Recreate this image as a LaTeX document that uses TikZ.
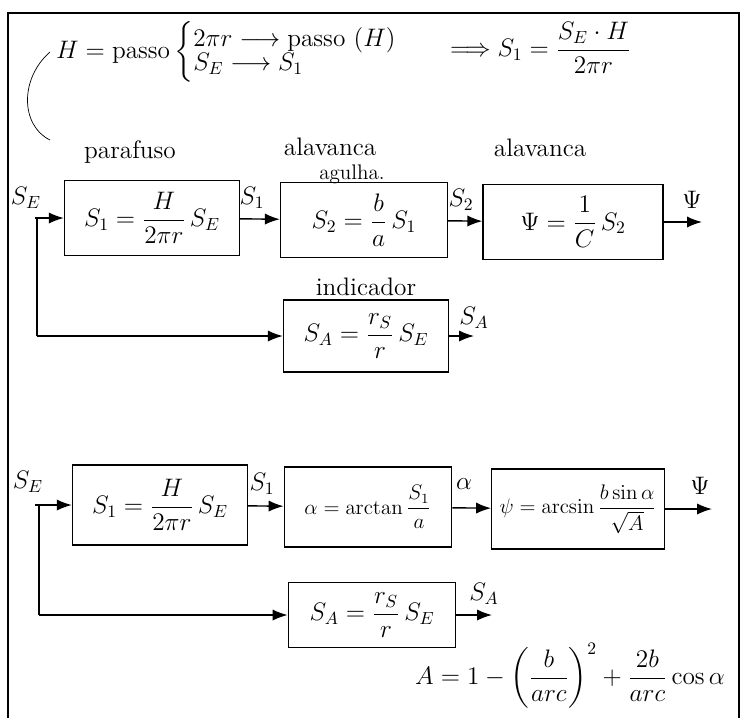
\documentclass[tikz,border=0pt]{standalone}
\usepackage{amsmath}
\usetikzlibrary{arrows.meta}
\tikzset{
  block/.style={draw, thick, minimum width=3.5cm, minimum height=1.5cm, font=\Large},
  lbl/.style={font=\Large},
  sig/.style={font=\Large},
  flow/.style={-{Latex[length=3mm]}, thick},
}
\begin{document}
\begin{tikzpicture}[x=0.02cm, y=-0.02cm]
  \useasboundingbox (0,0) rectangle (742,718);
  \draw[thick] (8,718) |- (739,13) -- (739,718);
  % H = passo
  \draw
    (50,52) node[anchor=west, font=\Large] (hdef)
      {$H=\text{passo}\left\{\begin{array}{@{}l@{}}
        2\pi r \longrightarrow \text{passo}\ (H)\\[-4pt]
        S_E \longrightarrow S_1\end{array}\right.$}
    (444,48) node[anchor=west, font=\Large] (res)
      {$\Longrightarrow S_1=\dfrac{S_E\cdot H}{2\pi r}$};
  \coordinate (cend) at (50,140);
  \draw (hdef.west) .. controls (20,78) and (20,125) .. (cend);
  % first chain
  \draw
    (152,218) node[block] (p1){$S_1=\dfrac{H}{2\pi r}\,S_E$}
    (364,220) node[block, minimum width=3.34cm] (a1){$S_2=\dfrac{b}{a}\,S_1$}
    (573,222) node[block, minimum width=3.6cm] (c1){$\Psi=\dfrac{1}{C}\,S_2$}
    (366,336) node[block, minimum width=3.3cm, minimum height=1.44cm] (i1){$S_A=\dfrac{r_S}{r}\,S_E$}
    (130,152) node[lbl] (para1){parafuso}
    (330,147) node[lbl] (alav1){alavanca}
    (352,174) node[lbl, font=\large] (agul1){agulha.}
    (540,148) node[lbl] (alav2){alavanca}
    (366,287) node[lbl] (ind1){indicador};
  \coordinate (in1) at (35,218);
  \coordinate (k1) at (37,336);
  \coordinate (out1) at (702,222);
  \coordinate (sa1) at (474,336);
  \node[sig] (se1) at (26,198) {$S_E$};
  \node[sig] (s11) at (252,198) {$S_1$};
  \node[sig] (s21) at (461,200) {$S_2$};
  \node[sig] (psi1) at (692,200) {$\Psi$};
  \node[sig] (sal1) at (474,318) {$S_A$};
  \begin{scope}[flow]
    \draw (in1) -- (p1);
    \draw (p1) -- (a1);
    \draw (a1) -- (c1);
    \draw (c1) -- (out1);
    \draw[-] (37,218) -- (k1);
    \draw (k1) -- (i1);
    \draw (i1) -- (sa1);
  \end{scope}
  % second chain
  \draw
    (160,505) node[block, minimum height=1.6cm] (p2){$S_1=\dfrac{H}{2\pi r}\,S_E$}
    (368,507) node[block, minimum width=3.35cm, minimum height=1.6cm, font=\large] (a2){$\alpha=\arctan\dfrac{S_1}{a}$}
    (578,509) node[block, minimum width=3.45cm, minimum height=1.6cm, font=\large, inner sep=1pt] (c2){$\psi=\arcsin\dfrac{b\sin\alpha}{\sqrt{A}}$}
    (372,615) node[block, minimum width=3.35cm, minimum height=1.3cm] (i2){$S_A=\dfrac{r_S}{r}\,S_E$}
    (570,676) node[font=\Large] (form){$A=1-\left(\dfrac{b}{arc}\right)^2+\dfrac{2b}{arc}\cos\alpha$};
  \coordinate (in2) at (35,505);
  \coordinate (k2) at (39,615);
  \coordinate (out2) at (712,509);
  \coordinate (sa2) at (492,615);
  \node[sig] (se2) at (28,482) {$S_E$};
  \node[sig] (s12) at (262,484) {$S_1$};
  \node[sig] (al2) at (464,484) {$\alpha$};
  \node[sig] (psi2) at (700,486) {$\Psi$};
  \node[sig] (sal2) at (484,594) {$S_A$};
  \begin{scope}[flow]
    \draw (in2) -- (p2);
    \draw (p2) -- (a2);
    \draw (a2) -- (c2);
    \draw (c2) -- (out2);
    \draw[-] (39,505) -- (k2);
    \draw (k2) -- (i2);
    \draw (i2) -- (sa2);
  \end{scope}
\end{tikzpicture}
\end{document}
